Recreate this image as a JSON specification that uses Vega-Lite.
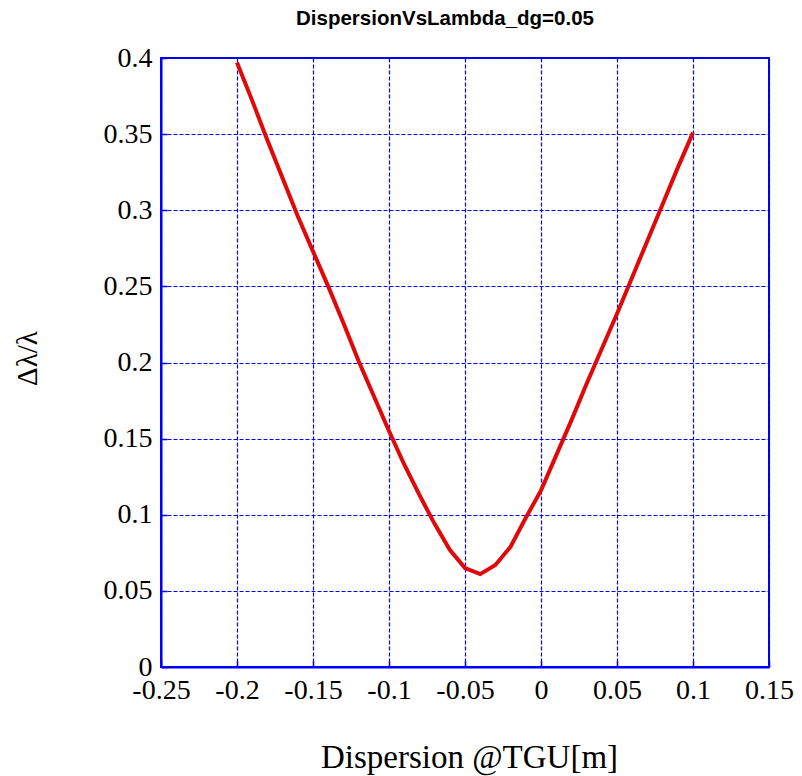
{
  "$schema": "https://vega.github.io/schema/vega-lite/v6.json",
  "width": 608,
  "height": 609,
  "autosize": {"type": "none"},
  "padding": {"left": 161, "top": 58, "right": 33, "bottom": 109},
  "background": "white",
  "title": {
    "text": "DispersionVsLambda_dg=0.05",
    "font": "Liberation Sans",
    "fontSize": 20.5,
    "fontWeight": "bold",
    "color": "black",
    "anchor": "middle",
    "dx": -20,
    "offset": 15
  },
  "data": {
    "values": [
      {"d": -0.20, "r": 0.397},
      {"d": -0.19, "r": 0.372},
      {"d": -0.18, "r": 0.346},
      {"d": -0.17, "r": 0.321},
      {"d": -0.16, "r": 0.296},
      {"d": -0.15, "r": 0.273},
      {"d": -0.14, "r": 0.250},
      {"d": -0.13, "r": 0.226},
      {"d": -0.12, "r": 0.201},
      {"d": -0.11, "r": 0.178},
      {"d": -0.10, "r": 0.155},
      {"d": -0.09, "r": 0.133},
      {"d": -0.08, "r": 0.113},
      {"d": -0.07, "r": 0.094},
      {"d": -0.06, "r": 0.077},
      {"d": -0.05, "r": 0.065},
      {"d": -0.04, "r": 0.061},
      {"d": -0.03, "r": 0.067},
      {"d": -0.02, "r": 0.079},
      {"d": -0.01, "r": 0.098},
      {"d": 0.00, "r": 0.116},
      {"d": 0.01, "r": 0.139},
      {"d": 0.02, "r": 0.162},
      {"d": 0.03, "r": 0.186},
      {"d": 0.04, "r": 0.209},
      {"d": 0.05, "r": 0.232},
      {"d": 0.06, "r": 0.256},
      {"d": 0.07, "r": 0.280},
      {"d": 0.08, "r": 0.304},
      {"d": 0.09, "r": 0.328},
      {"d": 0.10, "r": 0.351}
    ]
  },
  "config": {
    "view": {"stroke": "#0000ff", "strokeWidth": 2},
    "axis": {
      "domainColor": "#0000ff",
      "domainWidth": 2,
      "grid": true,
      "gridColor": "#0000ff",
      "gridDash": [4, 2],
      "gridWidth": 1.2,
      "gridOpacity": 1,
      "tickColor": "#0000ff",
      "tickSize": -6,
      "tickWidth": 1.5,
      "labelFont": "Liberation Serif",
      "labelFontSize": 28,
      "labelColor": "black",
      "titleFont": "Liberation Serif",
      "titleFontWeight": "normal",
      "titleColor": "black"
    }
  },
  "mark": {"type": "line", "color": "#e00808", "strokeWidth": 4},
  "encoding": {
    "x": {
      "field": "d",
      "type": "quantitative",
      "scale": {"domain": [-0.25, 0.15], "nice": false, "zero": false},
      "axis": {
        "title": "Dispersion @TGU[m]",
        "values": [-0.25, -0.2, -0.15, -0.1, -0.05, 0, 0.05, 0.1, 0.15],
        "labelExpr": "toString(datum.value)",
        "labelPadding": 15,
        "labelFlush": false,
        "labelOverlap": false,
        "gridColor": "#0000ff",
        "gridDash": [4, 2],
        "titleFontSize": 33,
        "titleX": 308,
        "titleY": 90,
        "titleBaseline": "middle"
      }
    },
    "y": {
      "field": "r",
      "type": "quantitative",
      "scale": {"domain": [0, 0.4], "nice": false},
      "axis": {
        "title": "Δλ/λ",
        "values": [0, 0.05, 0.1, 0.15, 0.2, 0.25, 0.3, 0.35, 0.4],
        "labelExpr": "toString(datum.value)",
        "labelPadding": 15,
        "labelFlush": false,
        "labelOverlap": false,
        "gridColor": "#0000ff",
        "gridDash": [4, 2],
        "titleFontSize": 29,
        "titleX": -134,
        "titleY": 300,
        "titleBaseline": "middle"
      }
    }
  }
}
